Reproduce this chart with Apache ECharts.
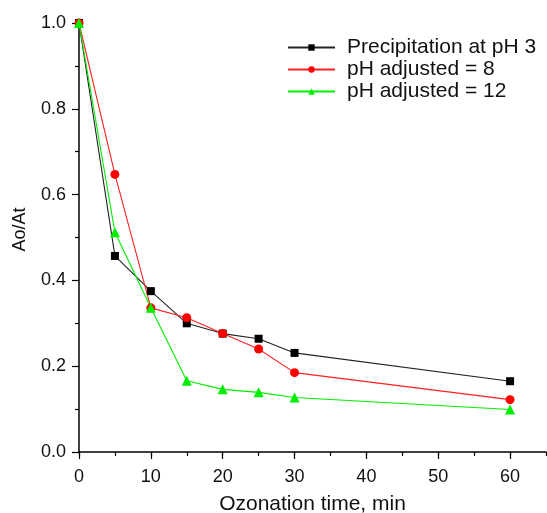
<!DOCTYPE html>
<html><head><meta charset="utf-8">
<script src="https://cdn.jsdelivr.net/npm/echarts@6/dist/echarts.min.js"></script>
<style>html,body{margin:0;padding:0;background:#fff}#c{width:547px;height:513px}</style>
</head><body><div id="c"></div>
<script>
const times = [0, 5, 10, 15, 20, 25, 30, 60];
const seriesNames = ['Precipitation at pH 3', 'pH adjusted = 8', 'pH adjusted = 12'];
const pH3 = [1.0, 0.457, 0.375, 0.300, 0.276, 0.264, 0.231, 0.165];
const pH8 = [1.0, 0.647, 0.336, 0.313, 0.276, 0.240, 0.185, 0.122];
const pH12 = [1.0, 0.512, 0.336, 0.166, 0.146, 0.139, 0.127, 0.099];
const xMajorTicks = [0, 10, 20, 30, 40, 50, 60];

const pair = arr => times.map((t, i) => [t, arr[i]]);
const font = 'Liberation Sans, Arial, sans-serif';
const chart = echarts.init(document.getElementById('c'), null, {renderer: 'canvas'});
const mk = (name, data, color, lineColor, symbol, size) => ({
  name, type: 'line', data: pair(data), symbol, symbolSize: size,
  xAxisIndex: 0, yAxisIndex: 0,
  lineStyle: {color: lineColor, width: 1.1},
  itemStyle: {color: color},
  emphasis: {disabled: true}, animation: false
});
const tickStyle = {color: '#000', width: 1.2};
chart.setOption({
  animation: false,
  grid: {left: 79, right: 1, top: 23, bottom: 61, containLabel: false, outerBoundsMode: 'none'},
  legend: {
    orient: 'vertical', left: 282, top: 32, itemWidth: 47, itemHeight: 8, itemGap: 1,
    textStyle: {fontFamily: font, fontSize: 21, color: '#111', padding: [0, 0, 0, 7]},
    data: seriesNames
  },
  xAxis: [{
    type: 'value', min: 0, max: 65, interval: 10,
    name: 'Ozonation time, min', nameLocation: 'middle', nameGap: 42,
    nameTextStyle: {fontFamily: font, fontSize: 21, color: '#111'},
    axisLine: {lineStyle: {color: '#000', width: 1.5}},
    axisTick: {length: 7, lineStyle: tickStyle, customValues: xMajorTicks},
    minorTick: {show: false},
    axisLabel: {fontFamily: font, fontSize: 18, color: '#111', margin: 16,
      customValues: xMajorTicks,
      formatter: v => (v % 10 === 0 ? String(v) : '')},
    splitLine: {show: false}
  }, {
    type: 'value', min: 0, max: 65, interval: 5, position: 'bottom', gridIndex: 0,
    axisLine: {show: false},
    axisTick: {show: true, length: 4, lineStyle: tickStyle},
    axisLabel: {show: false},
    splitLine: {show: false}
  }],
  yAxis: {
    type: 'value', min: 0, max: 1.0, interval: 0.2,
    name: 'Ao/At', nameLocation: 'middle', nameGap: 50,
    nameTextStyle: {fontFamily: font, fontSize: 18, color: '#111', padding: [0, 0, 0, 16]},
    axisLine: {show: true, lineStyle: {color: '#000', width: 1.5}},
    axisTick: {show: true, length: 7, lineStyle: tickStyle},
    minorTick: {show: true, splitNumber: 2, length: 4, lineStyle: tickStyle},
    axisLabel: {fontFamily: font, fontSize: 18, color: '#111', margin: 13,
      formatter: v => v.toFixed(1)},
    splitLine: {show: false}
  },
  series: [
    mk(seriesNames[0], pH3, '#000', '#222', 'rect', 8),
    mk(seriesNames[1], pH8, '#ff0000', '#ff2020', 'circle', 9),
    mk(seriesNames[2], pH12, '#00ee00', '#00ee00', 'triangle', 10)
  ]
});
</script></body></html>
